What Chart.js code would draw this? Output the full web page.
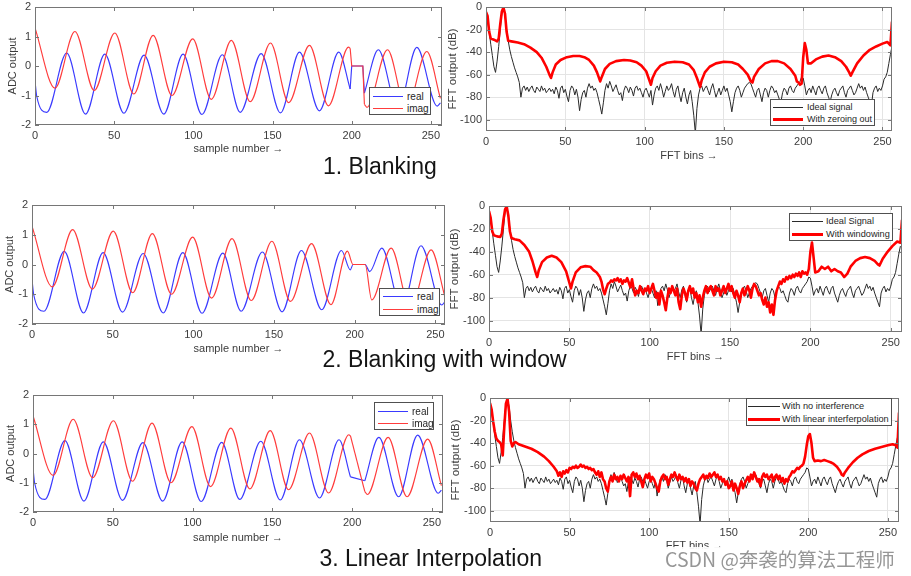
<!DOCTYPE html>
<html><head><meta charset="utf-8">
<script src="https://cdn.jsdelivr.net/npm/chart.js@4.4.1/dist/chart.umd.min.js"></script>
<style>
html,body{margin:0;padding:0;background:#fff;}
body{width:911px;height:576px;position:relative;overflow:hidden;font-family:'Liberation Sans',Arial,sans-serif;}
canvas{position:absolute;}
.cap{position:absolute;font-size:23px;line-height:23px;color:#141414;white-space:nowrap;}
.lg{position:absolute;background:#fff;border:1px solid #505050;box-sizing:border-box;}
.lg span{position:absolute;white-space:nowrap;color:#262626;}
.lg i{position:absolute;display:block;}
.wm{position:absolute;left:660px;top:547px;width:251px;height:29px;background:rgba(255,255,255,0.92);}
.wm span{position:absolute;left:5px;top:2px;font-family:'Noto Sans CJK SC',sans-serif;font-size:19.5px;line-height:19.5px;color:#969696;white-space:nowrap;}
</style></head>
<body>
<script>
// ---------------- DATA ----------------
const xTicks = [0, 50, 100, 150, 200, 250];
const timeYTicks = [-2, -1, 0, 1, 2];
const fftYTicks = [-100, -80, -60, -40, -20, 0];

// time-domain samples [sample, value] (peaks / troughs)
const realHead = [[0,-0.5],[1,-1.0],[7.4,-1.57],[20,0.44],[31.9,-1.63],[44.1,0.40],[56.1,-1.60],[68.9,0.37],[81.3,-1.63],[93.5,0.40],[105.4,-1.64],[118.3,0.38],[129.6,-1.57],[142.8,0.42],[155,-1.59],[167,0.47],[179.6,-1.52],[191.8,0.47]];
const realTail = [[216.8,0.55],[229.2,-1.48],[241.1,0.63],[254,-1.36],[256,-1.25]];
const redHead = [[0,1.29],[12.6,-0.75],[25.2,1.17],[37.4,-0.83],[50.4,1.12],[62.4,-0.95],[74.6,1.04],[86.5,-1.0],[99.6,0.92],[111.3,-1.13],[124,0.87],[135.9,-1.21],[148.7,0.78],[160.2,-1.24],[173.3,0.70],[185.3,-1.35]];
const redTail = [[222.6,0.55],[234.5,-1.48],[247.4,0.49],[256,-1.1]];

// 1. blanking
const realBlankPre = [];
const realBlankGap = [[199,-0.78],[200,0],[207,0],[208,-0.92]];
const realBlankPost = [];
const redBlankPre = [[198,0.64]];
const redBlankGap = [[199,0.6],[200,0],[207,0],[208,-1.3]];
const redBlankPost = [[209.6,-1.40]];
// 2. blanking with window
const realWindowPre = [[197.3,-0.18],[199,0],[206.5,0],[209.3,-0.24]];
const redWindowPre = [[195.5,0.45],[199,0],[206.5,0],[210.6,-1.19]];
// 3. linear interpolation
const realInterpGap = [[199,-0.8],[208,-0.93]];
const redInterpPre = [[198,0.64]];
const redInterpGap = [[199,0.6],[208,-1.3]];
const redInterpPost = [[209.6,-1.4]];

// FFT (dB) – ideal signal, one value per bin 0..256
const idealFFT = [
-5,-12,-22,-33,-43,-53,-58,-48,-35,-20,-5,0,-8,-20,-30,-38,-44,-49,-54,-58,-62,-67,-80,
-72,-70,-74,-71,-75,-72,-70,-74,-76,-71,
-73,-75,-70,-74,-72,-76,-74,-72,-75,-73,
-77,-71,-74,-81,-72,-70,-76,-73,-79,-84,
-74,-70,-72,-78,-73,-80,-92,-82,-76,-74,
-80,-72,-68,-72,-70,-74,-72,-76,-82,-88,
-95,-85,-74,-68,-72,-66,-70,-75,-72,-69,
-74,-78,-76,-83,-74,-70,-72,-76,-71,-74,
-79,-72,-70,-74,-72,-76,-80,-74,-72,-76,
-80,-74,-87,-78,-72,-70,-74,-68,-73,-80,
-75,-70,-74,-72,-68,-75,-80,-73,-70,-78,
-84,-76,-72,-80,-86,-78,-74,-84,-96,-112,
-90,-78,-72,-70,-75,-72,-70,-74,-78,-72,
-68,-74,-80,-76,-72,-78,-74,-70,-75,-72,
-78,-84,-93,-84,-76,-72,-70,-74,-80,-76,
-72,-70,-68,-67,-68,-72,-76,-80,-74,-72,
-78,-84,-76,-72,-74,-80,-74,-70,-72,-76,
-74,-78,-82,-84,-76,-72,-74,-78,-72,-70,
-74,-76,-72,-70,-68,-66,-62,-63,-70,-78,
-74,-72,-76,-70,-74,-78,-72,-70,-74,-77,
-72,-70,-76,-80,-84,-78,-74,-72,-76,-79,
-74,-72,-70,-76,-80,-74,-72,-70,-74,-78,
-76,-72,-68,-72,-70,-74,-71,-76,-80,-84,
-88,-76,-72,-70,-75,-72,-74,-70,-64,-62,
-58,-50,-42,-35];

// with zeroing out [bin, dB]
const zeroingFFT = [[0,-4.5],[1,-8],[2,-22],[3,-28],[5,-29],[7,-30.5],[8,-28],[9,-15],[10,-4],[11,-0.5],[12,-6],[13,-22],[14,-30],[16,-30.5],[20,-31.5],[24,-33],[28,-36],[32,-40],[35,-45],[38,-53],[40,-60],[41,-63],[42,-58],[44,-51],[47,-47],[51,-44.5],[55,-43.5],[59,-43.5],[62,-44.5],[65,-47],[68,-52],[70,-58],[72,-66],[73,-62],[75,-55],[78,-50.5],[82,-48],[87,-47],[91,-47.5],[95,-49],[98,-52],[101,-57],[103,-65],[104,-69],[105,-63],[107,-57],[110,-52],[114,-49.5],[119,-48.5],[124,-49],[128,-51],[131,-56],[133,-63],[135,-71],[136,-65],[138,-58],[141,-53],[145,-50],[150,-48.5],[155,-49],[159,-51],[162,-55],[165,-60],[167,-66],[168,-67],[169,-62],[172,-55],[176,-50],[180,-48],[184,-48],[188,-50],[192,-55],[195,-61],[196,-66],[197,-67],[198,-69],[199,-68],[200,-45],[201,-32],[202,-38],[203,-50],[205,-50],[208,-46.5],[212,-44],[216,-43],[220,-44.5],[224,-48],[227,-53],[229,-58],[230,-61],[231,-58],[234,-50],[238,-43],[242,-38],[246,-35],[250,-32.5],[253,-31],[255,-34],[256,-13]];

// with windowing
const windowingHead = [[0,-4.5],[1,-10],[2,-22],[3,-25.5],[5,-26.5],[7,-27],[8,-24],[9,-12],[10,-3],[11,-0.5],[12,-8],[13,-22],[14,-28],[16,-29],[19,-30],[22,-34],[25,-40],[27,-48],[29,-58],[30,-62],[31,-56],[33,-49],[36,-45],[39,-43.5],[42,-45],[45,-49],[48,-57],[50,-67],[51,-72],[52,-66],[54,-58],[57,-53.5],[60,-52.5],[63,-53],[65,-56],[67,-58],[68,-60],[69,-62],[70,-66],[71,-73],[72,-77],[73,-72],[74,-68],[75,-67],[76,-65],[77,-66],[78,-64],[79,-65],[80,-63],[81,-66],[82,-64],[83,-68],[84,-65],[85,-66],[86,-63],[87,-67],[88,-71],[89,-64]];
const windowingMidBins = [90, 203];
const windowingMid = [-72,-78,-74,-76,-70,-74,-77,-72,-74,-70,-76,-72,-68,-74,-80,-76,-86,-74,-78,-84,-91,-80,-72,-76,-70,-74,-78,-72,-84,-90,-78,-72,-76,-82,-74,-70,-76,-72,-80,-76,-84,-78,-88,-80,-74,-70,-76,-72,-70,-74,-78,-70,-74,-72,-78,-74,-70,-76,-72,-68,-74,-70,-76,-80,-74,-78,-84,-76,-72,-78,-74,-70,-74,-80,-72,-68,-70,-74,-78,-76,-82,-86,-80,-88,-84,-93,-86,-95,-82,-74,-70,-66,-68,-64,-66,-62,-64,-61,-63,-60,-62,-59,-61,-58,-62,-57,-59,-58,-60,-55,-40,-32,-45,-58];
const windowingTail = [[205,-57],[207,-53],[209,-55],[211,-53],[213,-57],[215,-55],[217,-57],[219,-58],[221,-62],[223,-59],[225,-53],[228,-48],[231,-45.5],[234,-44.5],[237,-45.5],[240,-48],[242,-51],[243,-52],[245,-46],[248,-40],[251,-35],[254,-31],[256,-32],[257,-12]];

// with linear interpolation
const interpHead = [[0,-4.5],[1,-10],[2,-21],[3,-30],[4,-36],[5,-38],[6,-39],[7,-41],[8,-51],[9,-25],[10,-5],[11,-0.5],[12,-12],[13,-38],[14,-43],[15,-40],[16,-39],[18,-41],[22,-43],[26,-45],[30,-48],[34,-52],[37,-56],[40,-61],[42,-65],[43,-69]];
const interpMidBins = [44, 204];
const interpMid = [-66,-70,-65,-67,-64,-66,-62,-63,-61,-62,-60,-62,-61,-59,-61,-60,-62,-61,-63,-62,-64,-63,-66,-68,-65,-70,-66,-72,-74,-80,-83,-74,-70,-74,
-68,-72,-70,-74,-69,-72,-68,-71,-74,-70,-87,-68,-66,-70,-67,-72,-69,-74,-79,-72,-68,-71,-67,-74,-70,-72,-76,-80,-83,-74,-70,-68,-72,-70,-77,-72,-68,-70,-66,-70,-73,-68,-72,-70,-74,-71,-75,-72,-78,-74,-76,-80,-82,-76,-72,-70,-68,-72,-69,-71,-67,-70,-68,-66,-70,-68,-72,-70,-74,-72,-77,-74,-80,-78,-74,-82,-76,-80,-85,-78,-74,-80,-76,-73,-70,-74,-68,-72,-66,-70,-74,-72,-78,-70,-67,-70,-68,-72,-70,-68,-74,-70,-68,-72,-69,-74,-71,-76,-72,-74,-70,-68,-65,-66,-64,-62,-63,-61,-60,-58,-52,-42,-34,-32,-40,-53,-56];
const interpTail = [[206,-55.5],[208,-56],[210,-55],[212,-56],[214,-57],[216,-58.5],[218,-61],[220,-65],[221,-68],[222,-69],[223,-66],[225,-62],[228,-57],[231,-53],[234,-50],[238,-47],[242,-45],[246,-43.5],[250,-42],[253,-41],[255,-42],[256,-44],[257,-13]];

const captions = ['1. Blanking', '2. Blanking with window', '3. Linear Interpolation'];

// ---------------- STYLE / LAYOUT ----------------
const FONT = "'Liberation Sans', Arial, sans-serif";
const BLUE = '#3a3aff', RED_T = '#ff3c3c', RED_F = '#ff0000', BLACK_F = '#2a2a2a';
const FRAME = '#767676', TICKC = '#3c3c3c';

const framePlugin = {
  id: 'frame',
  afterDatasetsDraw(chart) {
    const {ctx, chartArea: a, scales: {x, y}} = chart;
    ctx.save();
    ctx.strokeStyle = FRAME; ctx.lineWidth = 1;
    ctx.strokeRect(Math.round(a.left) + 0.5, Math.round(a.top) + 0.5, Math.round(a.right - a.left) - 1, Math.round(a.bottom - a.top) - 1);
    ctx.beginPath();
    x.ticks.forEach(t => {
      const px = Math.round(x.getPixelForValue(t.value)) + 0.5;
      ctx.moveTo(px, a.bottom); ctx.lineTo(px, a.bottom - 4);
      ctx.moveTo(px, a.top); ctx.lineTo(px, a.top + 4);
    });
    y.ticks.forEach(t => {
      const py = Math.round(y.getPixelForValue(t.value)) + 0.5;
      ctx.moveTo(a.left, py); ctx.lineTo(a.left + 4, py);
      ctx.moveTo(a.right, py); ctx.lineTo(a.right - 4, py);
    });
    ctx.stroke();
    ctx.restore();
  }
};

const pts = a => a.map(([x, y]) => ({x, y}));

function timeSets(head, pre, gap, post, tail, color) {
  const st = {borderColor: color, borderWidth: 1.15, pointRadius: 0, fill: false};
  if (!gap.length) return [{...st, data: pts([...head, ...pre, ...post, ...tail]), cubicInterpolationMode: 'monotone'}];
  return [
    {...st, data: pts([...head, ...pre, gap[0]]), cubicInterpolationMode: 'monotone'},
    {...st, data: pts(gap), tension: 0},
    {...st, data: pts([gap[gap.length - 1], ...post, ...tail]), cubicInterpolationMode: 'monotone'}
  ];
}
function midPairs(bins, vals) { return vals.map((v, i) => [bins[0] + i, v]); }
function fftSets(redPairs) {
  return [
    {data: pts(redPairs), borderColor: RED_F, borderWidth: 2.6, pointRadius: 0, tension: 0, borderJoinStyle: 'round'},
    {data: idealFFT.map((v, i) => ({x: i, y: v})), borderColor: BLACK_F, borderWidth: 1, pointRadius: 0, tension: 0}
  ];
}

function makeChart(p, datasets) {
  const isF = p.kind === 'fft';
  const lhX = 11 * 1.2, ySize = isF ? 11.5 : 11, lhY = ySize * 1.2;
  const cx = Math.floor(p.yt - lhY / 2), cy = p.T - 12;
  const cw = Math.round(p.R + 4 - cx), ch = Math.round(p.xt + lhX / 2 - cy);
  const cv = document.createElement('canvas');
  cv.width = cw; cv.height = ch;
  cv.style.left = cx + 'px'; cv.style.top = cy + 'px';
  cv.style.width = cw + 'px'; cv.style.height = ch + 'px';
  document.body.appendChild(cv);
  const tickFont = {size: 11, family: FONT};
  new Chart(cv, {
    type: 'line',
    data: {datasets},
    plugins: [framePlugin],
    options: {
      responsive: false, animation: false, devicePixelRatio: 1,
      layout: {autoPadding: false, padding: {left: 0, top: p.T - cy, right: cw - (p.R - cx), bottom: 0}},
      plugins: {legend: {display: false}, tooltip: {enabled: false}},
      scales: {
        x: {
          type: 'linear', min: 0, max: p.xMax,
          afterBuildTicks: s => { s.ticks = xTicks.map(v => ({value: v})); },
          afterFit: s => { s.height = ch - (p.B - cy); },
          grid: {display: isF, drawTicks: false, color: '#e4e4e4', lineWidth: 1},
          border: {display: false},
          ticks: {padding: 4, color: TICKC, font: tickFont, maxRotation: 0, autoSkip: false},
          title: {display: true, text: isF ? 'FFT bins \u2192' : 'sample number \u2192', padding: 0, color: TICKC, font: {size: 11, family: FONT}}
        },
        y: {
          type: 'linear', min: isF ? -110 : -2, max: isF ? 0 : 2,
          afterBuildTicks: s => { s.ticks = (isF ? fftYTicks : timeYTicks).map(v => ({value: v})); },
          afterFit: s => { s.width = p.L - cx; },
          grid: {display: isF, drawTicks: false, color: '#e4e4e4', lineWidth: 1},
          border: {display: false},
          ticks: {padding: 4, color: TICKC, font: tickFont, autoSkip: false},
          title: {display: true, text: isF ? 'FFT output (dB)' : 'ADC output', padding: 0, color: TICKC, font: {size: ySize, family: FONT}}
        }
      }
    }
  });
}

function makeLegend(g, items, fs) {
  const d = document.createElement('div');
  d.className = 'lg';
  Object.assign(d.style, {left: g.l + 'px', top: g.t + 'px', width: g.w + 'px', height: g.h + 'px'});
  items.forEach((it, k) => {
    const ry = Math.round(g.rows[k] - g.t - 1);
    const ln = document.createElement('i');
    Object.assign(ln.style, {left: (g.x1 - g.l - 1) + 'px', top: (ry - Math.floor(it.w / 2)) + 'px', width: (g.x2 - g.x1) + 'px', height: it.w + 'px', background: it.c});
    d.appendChild(ln);
    const sp = document.createElement('span');
    sp.textContent = it.label;
    Object.assign(sp.style, {left: (g.tx - g.l - 1) + 'px', top: (ry - fs * 0.6 + 0.5) + 'px', fontSize: fs + 'px', lineHeight: (fs * 1.2) + 'px'});
    d.appendChild(sp);
  });
  document.body.appendChild(d);
}

// panels (layout in page pixels)
const P = {
  t1: {kind: 'time', L: 35, T: 7, R: 442, B: 125, xt: 149.5, yt: 13.3, xMax: 257},
  f1: {kind: 'fft', L: 486, T: 7, R: 892, B: 131, xt: 156, yt: 453.5, xMax: 256},
  t2: {kind: 'time', L: 32, T: 205, R: 445, B: 324, xt: 349.5, yt: 10.5, xMax: 256},
  f2: {kind: 'fft', L: 489, T: 206, R: 902, B: 332, xt: 357.5, yt: 455.5, xMax: 257},
  t3: {kind: 'time', L: 33, T: 395, R: 443, B: 512, xt: 538.5, yt: 11.5, xMax: 257},
  f3: {kind: 'fft', L: 490, T: 398, R: 899, B: 522, xt: 546, yt: 456, xMax: 257}
};

// ---- row 1: blanking
makeChart(P.t1, [
  ...timeSets(redHead, redBlankPre, redBlankGap, redBlankPost, redTail, RED_T),
  ...timeSets(realHead, realBlankPre, realBlankGap, realBlankPost, realTail, BLUE)
]);
makeChart(P.f1, fftSets(zeroingFFT));
// ---- row 2: blanking with window
makeChart(P.t2, [
  ...timeSets(redHead, redWindowPre, [], [], redTail, RED_T),
  ...timeSets(realHead, realWindowPre, [], [], realTail, BLUE)
]);
makeChart(P.f2, fftSets([...windowingHead, ...midPairs(windowingMidBins, windowingMid), ...windowingTail]));
// ---- row 3: linear interpolation
makeChart(P.t3, [
  ...timeSets(redHead, redInterpPre, redInterpGap, redInterpPost, redTail, RED_T),
  ...timeSets(realHead, [], realInterpGap, [], realTail, BLUE)
]);
makeChart(P.f3, fftSets([...interpHead, ...midPairs(interpMidBins, interpMid), ...interpTail]));

// legends
const tItems = [{label: 'real', c: BLUE, w: 1}, {label: 'imag', c: RED_T, w: 1}];
makeLegend({l: 369, t: 87, w: 62, h: 28, rows: [96.3, 108.3], x1: 373, x2: 403, tx: 407}, tItems, 10);
makeLegend({l: 379, t: 288, w: 61, h: 28, rows: [296, 309], x1: 383, x2: 413, tx: 417}, tItems, 10);
makeLegend({l: 374, t: 402, w: 60, h: 28, rows: [410.5, 423.3], x1: 378, x2: 408, tx: 412}, tItems, 10);
makeLegend({l: 770, t: 99, w: 105, h: 27, rows: [107, 119.3], x1: 773, x2: 803, tx: 807},
  [{label: 'Ideal signal', c: BLACK_F, w: 1}, {label: 'With zeroing out', c: RED_F, w: 3}], 9);
makeLegend({l: 789, t: 213, w: 104, h: 28, rows: [221.3, 234.3], x1: 792, x2: 823, tx: 826},
  [{label: 'Ideal Signal', c: BLACK_F, w: 1}, {label: 'With windowing', c: RED_F, w: 3}], 9.2);
makeLegend({l: 746, t: 398, w: 146, h: 28, rows: [406.3, 418.5], x1: 748, x2: 780, tx: 782},
  [{label: 'With no interference', c: BLACK_F, w: 1}, {label: 'With linear interferpolation', c: RED_F, w: 3}], 9.2);

// captions
[[323, 174], [322.5, 367.7], [319.5, 566]].forEach(([x, base], k) => {
  const d = document.createElement('div');
  d.className = 'cap';
  d.textContent = captions[k];
  d.style.left = x + 'px';
  d.style.top = (base - 19.5) + 'px';
  document.body.appendChild(d);
});

// CSDN watermark
const wm = document.createElement('div');
wm.className = 'wm';
wm.innerHTML = '<span>CSDN @奔袭的算法工程师</span>';
document.body.appendChild(wm);
</script>
</body></html>
